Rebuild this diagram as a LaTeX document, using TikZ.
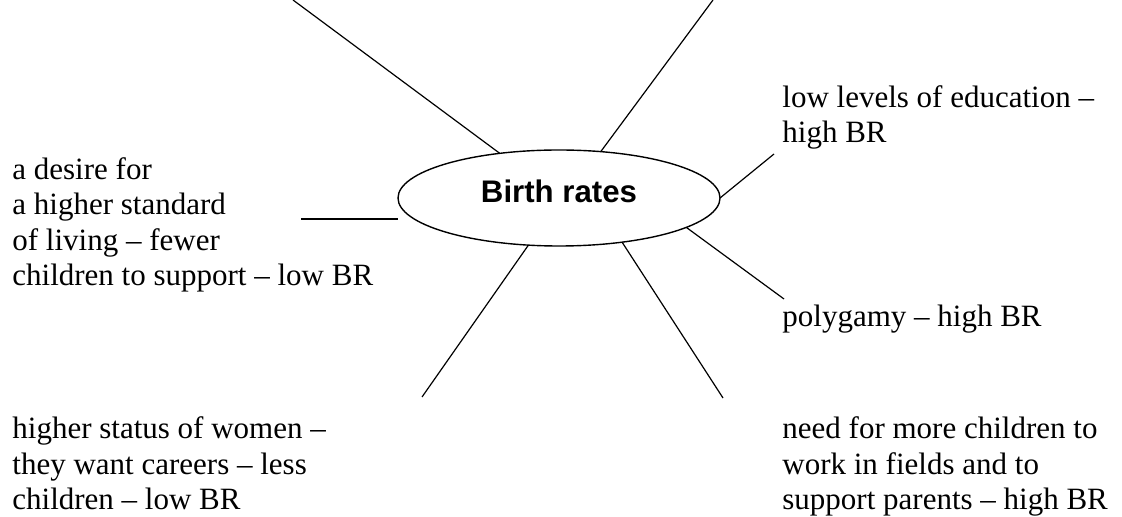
\documentclass[tikz,border=0pt]{standalone}
\usepackage{fontspec}
\setmainfont{Liberation Serif}
\newfontfamily\hubfont{Liberation Sans}
\usepackage{tikz}
\usetikzlibrary{shapes.geometric,calc}

\begin{document}
\begin{tikzpicture}[
    x=0.5pt, y=-0.5pt,
    hub/.style={ellipse, draw, line width=0.7pt, minimum width=161pt, minimum height=48pt, inner sep=0pt, outer sep=0pt, text height=11.3pt, text depth=6.3pt, font=\hubfont\bfseries\fontsize{15.6pt}{17.6pt}\selectfont},
    cause/.style={anchor=base west, inner sep=0pt, align=left, font=\fontsize{15.5pt}{17.75pt}\selectfont},
    spoke/.style={line width=0.6pt}
]
    \useasboundingbox (0,0) rectangle (1122,517);

    % Centre
    \node[hub] (births) at (559,198) {Birth rates};

    % Causes (placed by the baseline of their last line)
    \node[cause] (education) at (782,142.7) {low levels of education --\\high BR};
    \node[cause] (living) at (12,286) {a desire for\\a higher standard\\of living -- fewer\\children to support -- low BR};
    \node[cause] (polygamy) at (782,327) {polygamy -- high BR};
    \node[cause] (women) at (12,509.5) {higher status of women --\\they want careers -- less\\children -- low BR};
    \node[cause] (fields) at (782,509.5) {need for more children to\\work in fields and to\\support parents -- high BR};

    % Free ends of the spokes
    \coordinate (topleft) at (293,0);
    \coordinate (topright) at (713,0);
    \coordinate (edu) at (774,154);
    \coordinate (poly) at (784,299);
    \coordinate (field) at (723,398);
    \coordinate (wom) at (422,397);
    \coordinate (liv) at (301,219);

    % Spokes
    \draw[spoke] (births.143) -- (topleft);
    \draw[spoke] (births.48) -- (topright);
    \draw[spoke] (births.east) -- (edu);
    \draw[spoke] (births.-13) -- (poly);
    \draw[spoke] (births.-35) -- (field);
    \draw[spoke] (births.-123) -- (wom);
    \draw[spoke] (liv) -- (liv -| births.west);
\end{tikzpicture}
\end{document}
